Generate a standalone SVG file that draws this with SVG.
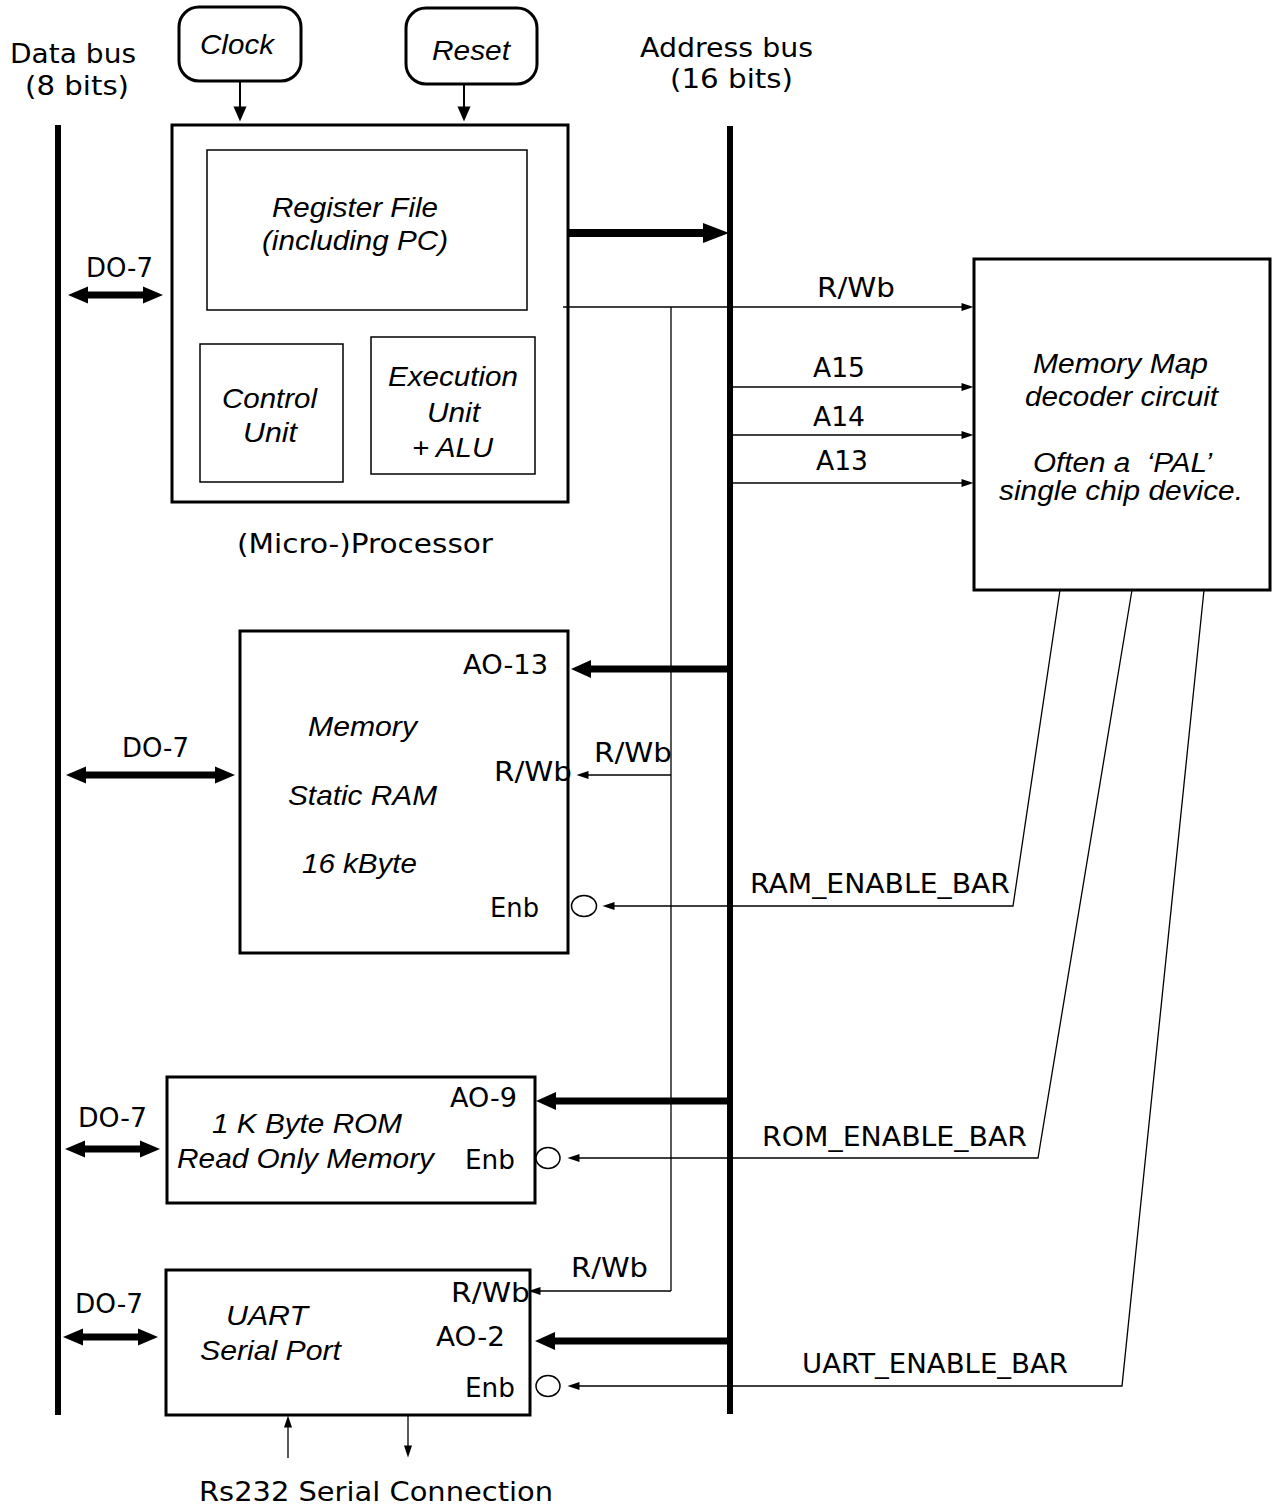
<svg xmlns="http://www.w3.org/2000/svg" width="1277" height="1510" viewBox="0 0 1277 1510">
<style>
.s{font-family:"DejaVu Sans","Liberation Sans",sans-serif;font-size:26px;fill:#000}
.i{font-family:"Liberation Sans",Arial,sans-serif;font-style:italic;font-size:28px;fill:#000}
.box{fill:#fff;stroke:#000;stroke-width:3}
.inner{fill:none;stroke:#000;stroke-width:1.5}
.bus{stroke:#000;stroke-width:6;fill:none}
.thin{stroke:#000;stroke-width:1.3;fill:none}
.thick{stroke:#000;stroke-width:7;fill:none}
.med{stroke:#000;stroke-width:2;fill:none}
</style>
<defs>
<marker id="mThin" markerUnits="userSpaceOnUse" markerWidth="13" markerHeight="8" refX="0.5" refY="4" orient="auto" overflow="visible"><path d="M0,0 L12,4 L0,8 z" fill="#000"/></marker>
<marker id="mBig" markerUnits="userSpaceOnUse" markerWidth="27" markerHeight="20" refX="1" refY="10" orient="auto" overflow="visible"><path d="M0,0 L26,10 L0,20 z" fill="#000"/></marker>
<marker id="mBus" markerUnits="userSpaceOnUse" markerWidth="21" markerHeight="18" refX="1" refY="9" orient="auto" overflow="visible"><path d="M0,0 L20,9 L0,18 z" fill="#000"/></marker>
<marker id="mDbl" markerUnits="userSpaceOnUse" markerWidth="21" markerHeight="17" refX="1" refY="8.5" orient="auto-start-reverse" overflow="visible"><path d="M0,0 L20,8.5 L0,17 z" fill="#000"/></marker>
<marker id="mSm" markerUnits="userSpaceOnUse" markerWidth="16" markerHeight="13" refX="0.5" refY="6.5" orient="auto" overflow="visible"><path d="M0,0 L15,6.5 L0,13 z" fill="#000"/></marker>
</defs>

<g id="labels-buses">
<text class="s" x="10" y="63" textLength="126" lengthAdjust="spacingAndGlyphs">Data bus</text>
<text class="s" x="25" y="95" textLength="104" lengthAdjust="spacingAndGlyphs">(8 bits)</text>
<text class="s" x="640" y="57" textLength="173" lengthAdjust="spacingAndGlyphs">Address bus</text>
<text class="s" x="670" y="88" textLength="123" lengthAdjust="spacingAndGlyphs">(16 bits)</text>
</g>

<g id="data-bus"><line class="bus" x1="58" y1="125" x2="58" y2="1415"/></g>
<g id="address-bus"><line class="bus" x1="730" y1="126" x2="730" y2="1414"/></g>

<g id="clock">
<rect class="box" x="179" y="7" width="122" height="74" rx="20"/>
<text class="i" x="200" y="54" font-size="29" textLength="74" lengthAdjust="spacingAndGlyphs">Clock</text>
</g>
<g id="reset">
<rect class="box" x="406" y="8" width="131" height="76" rx="20"/>
<text class="i" x="432" y="60" font-size="29" textLength="78" lengthAdjust="spacingAndGlyphs">Reset</text>
</g>

<g id="processor">
<rect class="box" x="172" y="125" width="396" height="377"/>
<rect class="inner" x="207" y="150" width="320" height="160"/>
<text class="i" x="272" y="217" font-size="25" textLength="166" lengthAdjust="spacingAndGlyphs">Register File</text>
<text class="i" x="262" y="250" font-size="25" textLength="186" lengthAdjust="spacingAndGlyphs">(including PC)</text>
<rect class="inner" x="200" y="344" width="143" height="138"/>
<text class="i" x="222" y="408" textLength="95" lengthAdjust="spacingAndGlyphs">Control</text>
<text class="i" x="243" y="442" textLength="54" lengthAdjust="spacingAndGlyphs">Unit</text>
<rect class="inner" x="371" y="337" width="164" height="137"/>
<text class="i" x="388" y="386" textLength="130" lengthAdjust="spacingAndGlyphs">Execution</text>
<text class="i" x="427" y="422" textLength="53" lengthAdjust="spacingAndGlyphs">Unit</text>
<text class="i" x="412" y="457" textLength="81" lengthAdjust="spacingAndGlyphs">+ ALU</text>
<text class="s" x="237" y="553" textLength="256" lengthAdjust="spacingAndGlyphs">(Micro-)Processor</text>
<text class="s" x="86" y="277" textLength="67" lengthAdjust="spacingAndGlyphs">DO-7</text>
</g>

<g id="memory-map">
<rect class="box" x="974" y="259" width="296" height="331"/>
<text class="i" x="1033" y="373" textLength="175" lengthAdjust="spacingAndGlyphs">Memory Map</text>
<text class="i" x="1025" y="406" textLength="193" lengthAdjust="spacingAndGlyphs">decoder circuit</text>
<text class="i" x="1033" y="472" textLength="179" lengthAdjust="spacingAndGlyphs" xml:space="preserve">Often a  ‘PAL’</text>
<text class="i" x="999" y="500" textLength="244" lengthAdjust="spacingAndGlyphs">single chip device.</text>
</g>

<g id="ram">
<rect class="box" x="240" y="631" width="328" height="322"/>
<text class="i" x="308" y="736" textLength="109" lengthAdjust="spacingAndGlyphs">Memory</text>
<text class="i" x="288" y="805" textLength="149" lengthAdjust="spacingAndGlyphs">Static RAM</text>
<text class="i" x="302" y="873" textLength="115" lengthAdjust="spacingAndGlyphs">16 kByte</text>
<text class="s" x="463" y="674" textLength="85" lengthAdjust="spacingAndGlyphs">AO-13</text>
<text class="s" x="494" y="781" textLength="78" lengthAdjust="spacingAndGlyphs">R/Wb</text>
<text class="s" x="490" y="917" textLength="49" lengthAdjust="spacingAndGlyphs">Enb</text>
<ellipse cx="584" cy="906" rx="12.5" ry="10.5" fill="#fff" stroke="#000" stroke-width="1.5"/>
<text class="s" x="122" y="757" textLength="67" lengthAdjust="spacingAndGlyphs">DO-7</text>
</g>

<g id="rom">
<rect class="box" x="167" y="1077" width="368" height="126"/>
<text class="i" x="212" y="1133" textLength="190" lengthAdjust="spacingAndGlyphs">1 K Byte ROM</text>
<text class="i" x="177" y="1168" textLength="257" lengthAdjust="spacingAndGlyphs">Read Only Memory</text>
<text class="s" x="450" y="1107" textLength="67" lengthAdjust="spacingAndGlyphs">AO-9</text>
<text class="s" x="465" y="1169" textLength="50" lengthAdjust="spacingAndGlyphs">Enb</text>
<ellipse cx="548" cy="1158" rx="12" ry="10.5" fill="#fff" stroke="#000" stroke-width="1.5"/>
<text class="s" x="78" y="1127" textLength="69" lengthAdjust="spacingAndGlyphs">DO-7</text>
</g>

<g id="uart">
<rect class="box" x="166" y="1270" width="364" height="145"/>
<text class="i" x="226" y="1325" textLength="82" lengthAdjust="spacingAndGlyphs">UART</text>
<text class="i" x="200" y="1360" textLength="141" lengthAdjust="spacingAndGlyphs">Serial Port</text>
<text class="s" x="451" y="1302" textLength="79" lengthAdjust="spacingAndGlyphs">R/Wb</text>
<text class="s" x="436" y="1346" textLength="69" lengthAdjust="spacingAndGlyphs">AO-2</text>
<text class="s" x="465" y="1397" textLength="50" lengthAdjust="spacingAndGlyphs">Enb</text>
<ellipse cx="548" cy="1386" rx="12" ry="10.5" fill="#fff" stroke="#000" stroke-width="1.5"/>
<text class="s" x="75" y="1313" textLength="68" lengthAdjust="spacingAndGlyphs">DO-7</text>
<text class="s" x="199" y="1501" textLength="354" lengthAdjust="spacingAndGlyphs">Rs232 Serial Connection</text>
</g>

<g id="connectors">
<line class="med" x1="240" y1="81" x2="240" y2="107" marker-end="url(#mSm)"/>
<line class="med" x1="464" y1="84" x2="464" y2="107" marker-end="url(#mSm)"/>
<line stroke="#000" stroke-width="8" x1="568" y1="233" x2="704" y2="233" marker-end="url(#mBig)"/>

<line class="thick" x1="87" y1="295" x2="144" y2="295" marker-start="url(#mDbl)" marker-end="url(#mDbl)"/>
<line class="thick" x1="85" y1="775" x2="216" y2="775" marker-start="url(#mDbl)" marker-end="url(#mDbl)"/>
<line class="thick" x1="84" y1="1149" x2="141" y2="1149" marker-start="url(#mDbl)" marker-end="url(#mDbl)"/>
<line class="thick" x1="82" y1="1337" x2="139" y2="1337" marker-start="url(#mDbl)" marker-end="url(#mDbl)"/>

<line class="thin" x1="563" y1="307" x2="962" y2="307" marker-end="url(#mThin)"/>
<line class="thin" x1="671" y1="307" x2="671" y2="1291"/>
<line class="thin" x1="671" y1="775" x2="588" y2="775" marker-end="url(#mThin)"/>
<line class="thin" x1="671" y1="1291" x2="540" y2="1291" marker-end="url(#mThin)"/>
<text class="s" x="817" y="297" textLength="78" lengthAdjust="spacingAndGlyphs">R/Wb</text>
<text class="s" x="594" y="762" textLength="78" lengthAdjust="spacingAndGlyphs">R/Wb</text>
<text class="s" x="571" y="1277" textLength="77" lengthAdjust="spacingAndGlyphs">R/Wb</text>

<line class="thin" x1="733" y1="387" x2="962" y2="387" marker-end="url(#mThin)"/>
<line class="thin" x1="733" y1="435" x2="962" y2="435" marker-end="url(#mThin)"/>
<line class="thin" x1="733" y1="483" x2="962" y2="483" marker-end="url(#mThin)"/>
<text class="s" x="813" y="377" textLength="52" lengthAdjust="spacingAndGlyphs">A15</text>
<text class="s" x="813" y="426" textLength="52" lengthAdjust="spacingAndGlyphs">A14</text>
<text class="s" x="816" y="470" textLength="52" lengthAdjust="spacingAndGlyphs">A13</text>

<line class="thick" x1="730" y1="669" x2="590" y2="669" marker-end="url(#mBus)"/>
<line class="thick" x1="730" y1="1101" x2="555" y2="1101" marker-end="url(#mBus)"/>
<line class="thick" x1="730" y1="1341" x2="554" y2="1341" marker-end="url(#mBus)"/>

<polyline class="thin" points="1060,590 1013,906 614,906" marker-end="url(#mThin)"/>
<polyline class="thin" points="1132,590 1038,1158 579,1158" marker-end="url(#mThin)"/>
<polyline class="thin" points="1204,590 1122,1386 579,1386" marker-end="url(#mThin)"/>
<text class="s" x="750" y="893" textLength="260" lengthAdjust="spacingAndGlyphs">RAM_ENABLE_BAR</text>
<text class="s" x="762" y="1146" textLength="265" lengthAdjust="spacingAndGlyphs">ROM_ENABLE_BAR</text>
<text class="s" x="802" y="1373" textLength="266" lengthAdjust="spacingAndGlyphs">UART_ENABLE_BAR</text>

<line class="thin" x1="288" y1="1458" x2="288" y2="1427" marker-end="url(#mThin)"/>
<line class="thin" x1="408" y1="1415" x2="408" y2="1446" marker-end="url(#mThin)"/>
</g>
</svg>
